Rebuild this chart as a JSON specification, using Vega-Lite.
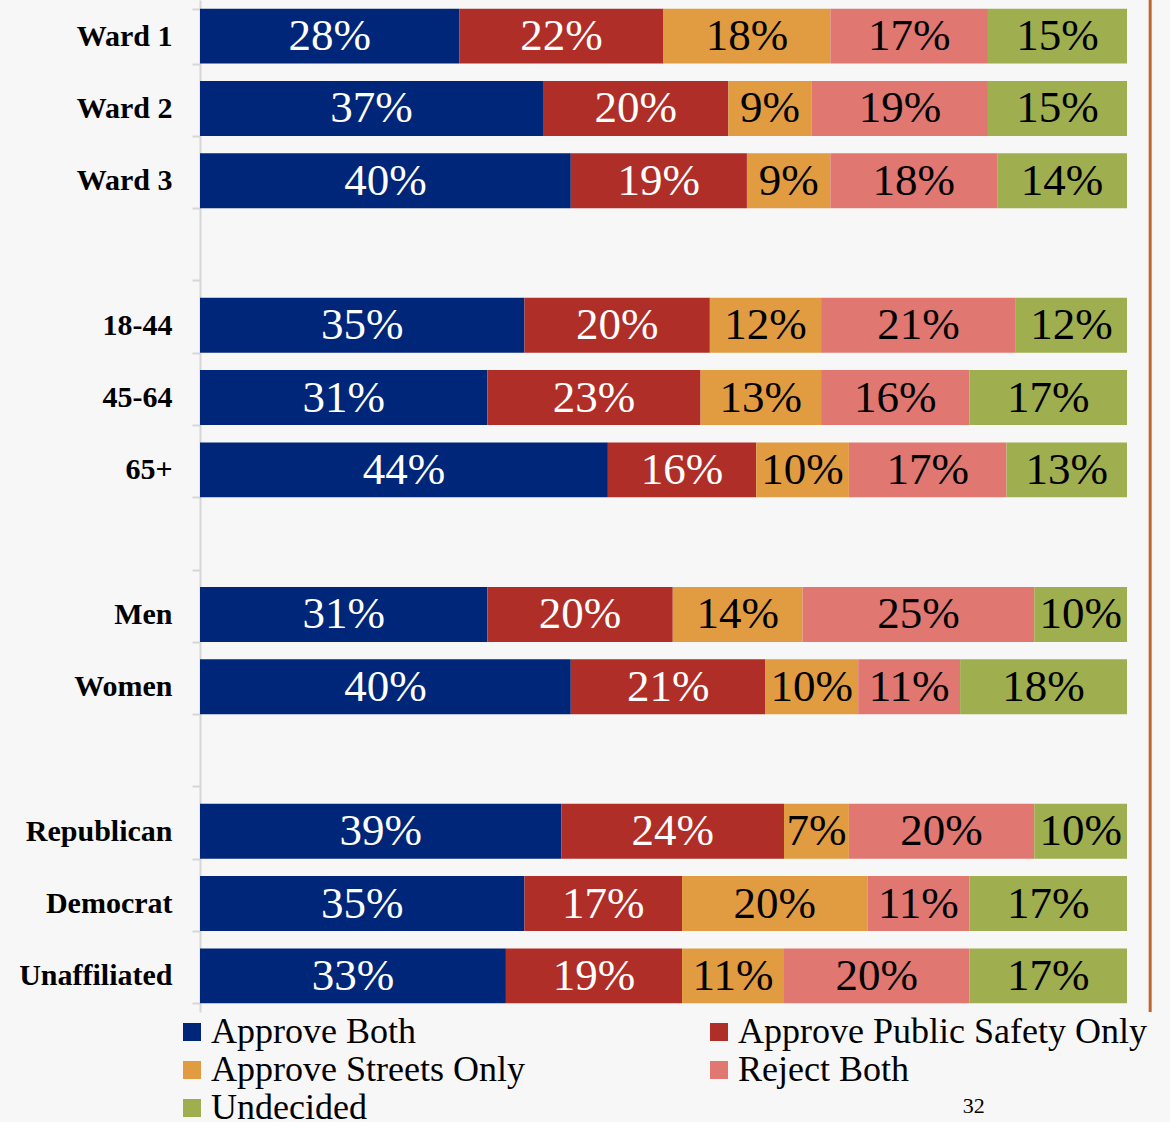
{
  "$schema": "https://vega.github.io/schema/vega-lite/v6.json",
  "width": 927,
  "height": 1012,
  "autosize": "none",
  "padding": {"left": 200, "top": 0, "right": 43, "bottom": 110},
  "background": "#f7f7f7",
  "title": {"text": "32", "orient": "bottom", "anchor": "start", "dx": 944, "offset": -30, "font": "Liberation Serif", "fontSize": 22, "fontWeight": "normal", "color": "#000000"},
  "config": {"view": {"stroke": null}, "font": "Liberation Serif"},
  "layer": [
    {
      "data": {"values": [
        {"g": "Ward 1", "c": "Approve Both", "k": 1, "v": 28},
        {"g": "Ward 1", "c": "Approve Public Safety Only", "k": 2, "v": 22},
        {"g": "Ward 1", "c": "Approve Streets Only", "k": 3, "v": 18},
        {"g": "Ward 1", "c": "Reject Both", "k": 4, "v": 17},
        {"g": "Ward 1", "c": "Undecided", "k": 5, "v": 15},
        {"g": "Ward 2", "c": "Approve Both", "k": 1, "v": 37},
        {"g": "Ward 2", "c": "Approve Public Safety Only", "k": 2, "v": 20},
        {"g": "Ward 2", "c": "Approve Streets Only", "k": 3, "v": 9},
        {"g": "Ward 2", "c": "Reject Both", "k": 4, "v": 19},
        {"g": "Ward 2", "c": "Undecided", "k": 5, "v": 15},
        {"g": "Ward 3", "c": "Approve Both", "k": 1, "v": 40},
        {"g": "Ward 3", "c": "Approve Public Safety Only", "k": 2, "v": 19},
        {"g": "Ward 3", "c": "Approve Streets Only", "k": 3, "v": 9},
        {"g": "Ward 3", "c": "Reject Both", "k": 4, "v": 18},
        {"g": "Ward 3", "c": "Undecided", "k": 5, "v": 14},
        {"g": "18-44", "c": "Approve Both", "k": 1, "v": 35},
        {"g": "18-44", "c": "Approve Public Safety Only", "k": 2, "v": 20},
        {"g": "18-44", "c": "Approve Streets Only", "k": 3, "v": 12},
        {"g": "18-44", "c": "Reject Both", "k": 4, "v": 21},
        {"g": "18-44", "c": "Undecided", "k": 5, "v": 12},
        {"g": "45-64", "c": "Approve Both", "k": 1, "v": 31},
        {"g": "45-64", "c": "Approve Public Safety Only", "k": 2, "v": 23},
        {"g": "45-64", "c": "Approve Streets Only", "k": 3, "v": 13},
        {"g": "45-64", "c": "Reject Both", "k": 4, "v": 16},
        {"g": "45-64", "c": "Undecided", "k": 5, "v": 17},
        {"g": "65+", "c": "Approve Both", "k": 1, "v": 44},
        {"g": "65+", "c": "Approve Public Safety Only", "k": 2, "v": 16},
        {"g": "65+", "c": "Approve Streets Only", "k": 3, "v": 10},
        {"g": "65+", "c": "Reject Both", "k": 4, "v": 17},
        {"g": "65+", "c": "Undecided", "k": 5, "v": 13},
        {"g": "Men", "c": "Approve Both", "k": 1, "v": 31},
        {"g": "Men", "c": "Approve Public Safety Only", "k": 2, "v": 20},
        {"g": "Men", "c": "Approve Streets Only", "k": 3, "v": 14},
        {"g": "Men", "c": "Reject Both", "k": 4, "v": 25},
        {"g": "Men", "c": "Undecided", "k": 5, "v": 10},
        {"g": "Women", "c": "Approve Both", "k": 1, "v": 40},
        {"g": "Women", "c": "Approve Public Safety Only", "k": 2, "v": 21},
        {"g": "Women", "c": "Approve Streets Only", "k": 3, "v": 10},
        {"g": "Women", "c": "Reject Both", "k": 4, "v": 11},
        {"g": "Women", "c": "Undecided", "k": 5, "v": 18},
        {"g": "Republican", "c": "Approve Both", "k": 1, "v": 39},
        {"g": "Republican", "c": "Approve Public Safety Only", "k": 2, "v": 24},
        {"g": "Republican", "c": "Approve Streets Only", "k": 3, "v": 7},
        {"g": "Republican", "c": "Reject Both", "k": 4, "v": 20},
        {"g": "Republican", "c": "Undecided", "k": 5, "v": 10},
        {"g": "Democrat", "c": "Approve Both", "k": 1, "v": 35},
        {"g": "Democrat", "c": "Approve Public Safety Only", "k": 2, "v": 17},
        {"g": "Democrat", "c": "Approve Streets Only", "k": 3, "v": 20},
        {"g": "Democrat", "c": "Reject Both", "k": 4, "v": 11},
        {"g": "Democrat", "c": "Undecided", "k": 5, "v": 17},
        {"g": "Unaffiliated", "c": "Approve Both", "k": 1, "v": 33},
        {"g": "Unaffiliated", "c": "Approve Public Safety Only", "k": 2, "v": 19},
        {"g": "Unaffiliated", "c": "Approve Streets Only", "k": 3, "v": 11},
        {"g": "Unaffiliated", "c": "Reject Both", "k": 4, "v": 20},
        {"g": "Unaffiliated", "c": "Undecided", "k": 5, "v": 17}
      ]},
      "transform": [
        {"stack": "v", "groupby": ["g"], "sort": [{"field": "k"}], "as": ["v0", "v1"]},
        {"calculate": "(datum.v0 + datum.v1) / 2", "as": "m"},
        {"calculate": "datum.v + '%'", "as": "lab"}
      ],
      "encoding": {
        "y": {
          "field": "g", "type": "nominal", "title": null,
          "scale": {
            "domain": ["Ward 1", "Ward 2", "Ward 3", " ", "18-44", "45-64", "65+", "  ", "Men", "Women", "   ", "Republican", "Democrat", "Unaffiliated"],
            "paddingInner": 0.24, "paddingOuter": 0.12
          },
          "axis": {
            "tickBand": "extent", "domainColor": "#d6d6d6", "tickColor": "#d6d6d6", "domainWidth": 2, "tickWidth": 2,
            "tickSize": 8, "labelPadding": 20, "labelFont": "Liberation Serif", "labelFontSize": 30, "labelFontWeight": "bold",
            "labelColor": "#000000", "labelLimit": 300
          }
        }
      },
      "layer": [
        {
          "mark": {"type": "bar"},
          "encoding": {
            "x": {"field": "v0", "type": "quantitative", "scale": {"domain": [0, 100], "nice": false}, "axis": null},
            "x2": {"field": "v1"},
            "color": {
              "field": "c", "type": "nominal",
              "scale": {
                "domain": ["Approve Both", "Approve Streets Only", "Undecided", "Approve Public Safety Only", "Reject Both"],
                "range": ["#00267a", "#e19c41", "#9fae4f", "#b02e28", "#e07771"]
              },
              "legend": {
                "orient": "none", "legendX": -26, "legendY": 1014, "title": null, "columns": 2, "columnPadding": 176,
                "rowPadding": 2, "labelFont": "Liberation Serif", "labelFontSize": 36, "labelColor": "#000000",
                "symbolType": "square", "symbolSize": 324, "symbolStrokeWidth": 0, "labelOffset": 1, "labelLimit": 600, "padding": 0
              }
            }
          }
        },
        {
          "mark": {"type": "text", "font": "Liberation Serif", "fontSize": 45, "baseline": "middle", "align": "center"},
          "encoding": {
            "x": {"field": "m", "type": "quantitative"},
            "text": {"field": "lab"},
            "color": {"condition": {"test": "datum.k <= 2", "value": "#ffffff"}, "value": "#000000"}
          }
        }
      ]
    },
    {
      "data": {"values": [{}]},
      "mark": {"type": "rule", "color": "#c0652e", "strokeWidth": 3, "clip": false},
      "encoding": {"x": {"datum": 102.5}}
    }
  ]
}
